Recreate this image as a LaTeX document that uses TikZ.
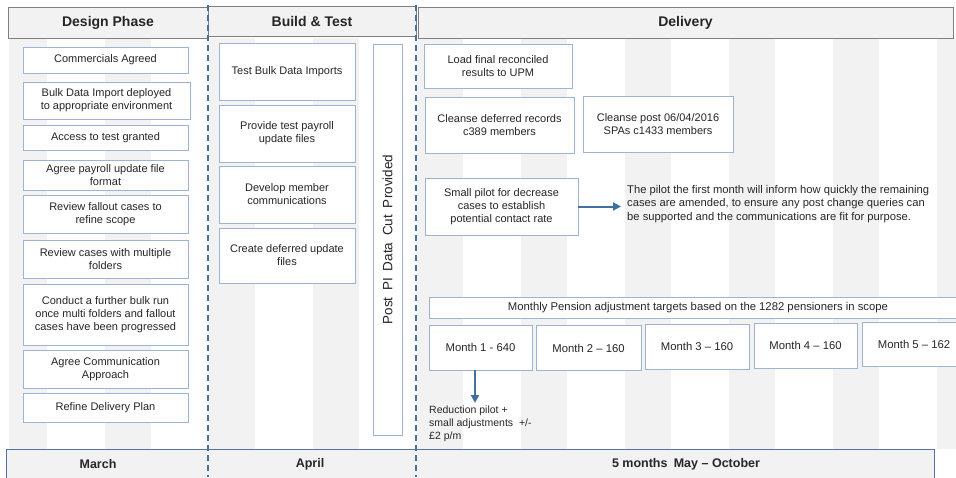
\documentclass[tikz,border=0pt]{standalone}
\usepackage{fontspec}
\setmainfont{Liberation Sans}
\usetikzlibrary{arrows.meta}
\definecolor{boxline}{HTML}{9DB3CF}
\definecolor{headfill}{HTML}{F2F2F2}
\definecolor{headline}{HTML}{7F7F7F}
\definecolor{stripe}{HTML}{F2F2F2}
\definecolor{darkblue}{HTML}{41719C}
\definecolor{barline}{HTML}{5573A0}
\definecolor{txt}{HTML}{262626}

\begin{document}
\begin{tikzpicture}[x=1pt, y=-1pt,
  task/.style={draw=boxline, line width=0.8pt, fill=white, text=txt, align=center,
    inner sep=1pt, font=\fontsize{11}{13}\selectfont},
  phase/.style={draw=headline, line width=0.8pt, fill=headfill, text=txt,
    font=\fontsize{14}{16}\selectfont\bfseries},
  monthlbl/.style={text=txt, font=\fontsize{12.5}{14}\selectfont\bfseries},
  flow/.style={draw=darkblue, line width=2pt, -{Triangle[length=8pt,width=8pt]}},
  split/.style={draw=darkblue, line width=1.4pt, dash pattern=on 6pt off 4pt}]

  \useasboundingbox (0,0) rectangle (956,477);
  \clip (0,0) rectangle (956,477);

  %% background stripes
  \begin{scope}
    \clip (9,0) rectangle (956,477);
    \foreach \sx in {1,105,...,937}
      \fill[stripe] (\sx,38) rectangle ++(46,411);
  \end{scope}

  %% phase headers
  \node[phase, minimum width=200pt, minimum height=31pt] (design) at (108,22.5) {Design Phase};
  \node[phase, minimum width=208pt, minimum height=30pt] (build) at (312,21) {Build \& Test};
  \node[phase, minimum width=535pt, minimum height=31pt] (delivery) at (685.5,22.5) {Delivery};

  %% design phase
  \node[task, minimum width=165pt, minimum height=26pt] (commercials) at (105.5,60) {Commercials Agreed};
  \node[task, minimum width=167pt, minimum height=37pt] (bulkimport) at (106.5,100.5) {Bulk Data Import deployed\\to appropriate environment};
  \node[task, minimum width=165pt, minimum height=25pt] (access) at (105.5,137.5) {Access to test granted};
  \node[task, minimum width=165pt, minimum height=30pt] (payroll) at (105.5,175) {Agree payroll update file\\format};
  \node[task, minimum width=165pt, minimum height=38pt] (fallout) at (105.5,214) {Review fallout cases to\\refine scope};
  \node[task, minimum width=165pt, minimum height=38pt] (folders) at (105.5,259) {Review cases with multiple\\folders};
  \node[task, minimum width=165pt, minimum height=61pt] (bulkrun) at (105.5,314.5) {Conduct a further bulk run\\once multi folders and fallout\\cases have been progressed};
  \node[task, minimum width=165pt, minimum height=38pt] (approach) at (105.5,369) {Agree Communication\\Approach};
  \node[task, minimum width=165pt, minimum height=29pt] (plan) at (105.5,407.5) {Refine Delivery Plan};

  %% build & test
  \node[task, minimum width=136pt, minimum height=57pt] (testbulk) at (287,71.5) {Test Bulk Data Imports};
  \node[task, minimum width=136pt, minimum height=57pt] (testfiles) at (287,133.5) {Provide test payroll\\update files};
  \node[task, minimum width=136pt, minimum height=57pt] (comms) at (287,194.5) {Develop member\\communications};
  \node[task, minimum width=136pt, minimum height=55pt] (deferred) at (287,255.5) {Create deferred update\\files};
  \node[task, rotate=90, minimum width=391pt, minimum height=29pt,
    font=\fontsize{13.5}{15}\selectfont] (datacut) at (387.5,239.5)
    {Post\enspace PI\enspace Data\enspace Cut\enspace Provided};

  %% delivery
  \node[task, minimum width=148pt, minimum height=44pt] (upm) at (498,66) {Load final reconciled\\results to UPM};
  \node[task, minimum width=149pt, minimum height=56pt] (cleanse) at (499.5,125) {Cleanse deferred records\\c389 members};
  \node[task, minimum width=150pt, minimum height=56pt] (spas) at (658,124) {Cleanse post 06/04/2016\\SPAs c1433 members};
  \node[task, minimum width=153pt, minimum height=57pt] (pilot) at (501.5,206.5) {Small pilot for decrease\\cases to establish\\potential contact rate};
  \node[text=txt, anchor=west, align=left, inner sep=1pt,
    font=\fontsize{11.2}{13.5}\selectfont] (note) at (626,204)
    {The pilot the first month will inform how quickly the remaining\\cases are amended, to ensure any post change queries can\\be supported and the communications are fit for purpose.};
  \draw[flow, shorten >=5pt] (pilot.east) -- (pilot.east -| note.west); % pilot -> note

  \node[task, minimum width=538pt, minimum height=21pt, font=\fontsize{11.3}{13}\selectfont] (targets) at (698,307.5)
    {Monthly Pension adjustment targets based on the 1282 pensioners in scope};
  \node[task, minimum width=103pt, minimum height=45pt, font=\fontsize{11.3}{13}\selectfont] (month1) at (480.5,347.5) {Month 1 - 640};
  \node[task, minimum width=105pt, minimum height=45pt, font=\fontsize{11.3}{13}\selectfont] (month2) at (588.5,348) {Month 2 -- 160};
  \node[task, minimum width=104pt, minimum height=45pt, font=\fontsize{11.3}{13}\selectfont] (month3) at (697,346.5) {Month 3 -- 160};
  \node[task, minimum width=103pt, minimum height=45pt, font=\fontsize{11.3}{13}\selectfont] (month4) at (805.5,345.5) {Month 4 -- 160};
  \node[task, minimum width=104pt, minimum height=44pt, font=\fontsize{11.3}{13}\selectfont] (month5) at (914,344) {Month 5 -- 162};

  \coordinate (dn) at (475,403);
  \draw[flow] (dn |- month1.south) -- (dn); % month1 -> reduction
  \node[text=txt, anchor=north west, align=left, inner sep=1pt,
    font=\fontsize{10.5}{13}\selectfont] (reduction) at (428,405)
    {Reduction pilot +\\small adjustments~~+/-\\£2 p/m};

  %% timeline bar
  \node[draw=barline, line width=1pt, fill=headfill, minimum width=928pt, minimum height=34pt] (timeline) at (470,466) {};
  \node[monthlbl] (march) at (98,464) {March};
  \node[monthlbl] (april) at (310,464) {April};
  \node[monthlbl] (mayoct) at (686,464) {5 months\enspace May -- October};

  %% phase splits
  \draw[split] (208,5) -- (208,477);
  \draw[split] (416,5) -- (416,477);

\end{tikzpicture}
\end{document}
